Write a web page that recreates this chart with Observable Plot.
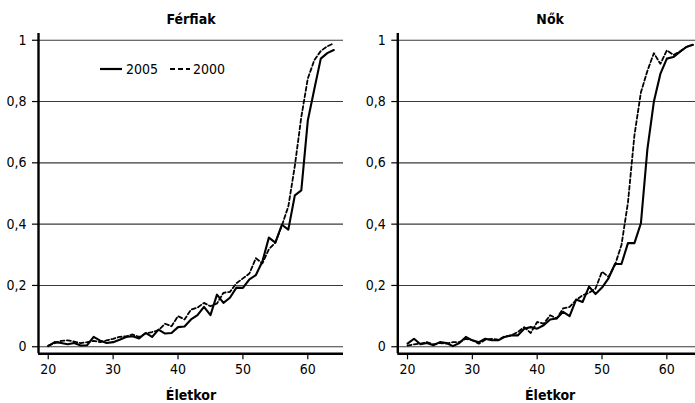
<!DOCTYPE html>
<html>
<head>
<meta charset="utf-8">
<script src="https://cdn.jsdelivr.net/npm/d3@7"></script>
<script src="https://cdn.jsdelivr.net/npm/@observablehq/plot@0.6"></script>
<style>
  html, body { margin: 0; padding: 0; background: #fff; }
  body { width: 695px; height: 403px; overflow: hidden; position: relative;
         font-family: "Liberation Sans Narrow", "DejaVu Sans Condensed", sans-serif; }
  .panel { position: absolute; top: 0; }
  .panel svg { max-width: none !important; }
  #legend { position: absolute; left: 100px; top: 60px; color: #000; }
</style>
</head>
<body>
<div id="left" class="panel" style="left:0px; width:347px"></div>
<div id="right" class="panel" style="left:347px; width:355px"></div>
<div id="legend"></div>
<script>
// Ages (x categories)
const ages = [20,21,22,23,24,25,26,27,28,29,30,31,32,33,34,35,36,37,38,39,40,41,42,43,44,45,46,47,48,49,50,51,52,53,54,55,56,57,58,59,60,61,62,63,64];

// Férfiak (men)
const men2005 = [0.002,0.015,0.012,0.008,0.012,0.004,0.005,0.032,0.020,0.012,
                 0.015,0.023,0.032,0.034,0.027,0.045,0.032,0.056,0.043,0.045,
                 0.064,0.066,0.089,0.103,0.130,0.103,0.170,0.143,0.160,0.193,
                 0.192,0.220,0.234,0.278,0.356,0.340,0.398,0.382,0.494,0.510,
                 0.738,0.840,0.940,0.958,0.968];
const men2000 = [0.004,0.012,0.019,0.021,0.017,0.012,0.015,0.019,0.015,0.021,
                 0.026,0.032,0.034,0.040,0.032,0.043,0.048,0.054,0.075,0.067,
                 0.100,0.089,0.121,0.128,0.143,0.132,0.141,0.176,0.179,0.207,
                 0.223,0.239,0.289,0.272,0.318,0.340,0.395,0.458,0.590,0.750,
                 0.875,0.935,0.965,0.980,0.990];

// Nők (women)
const women2005 = [0.010,0.026,0.008,0.012,0.005,0.015,0.012,0.002,0.012,0.032,
                   0.021,0.015,0.026,0.021,0.021,0.032,0.037,0.037,0.059,0.064,
                   0.059,0.070,0.089,0.092,0.114,0.100,0.154,0.146,0.196,0.172,
                   0.193,0.223,0.270,0.270,0.338,0.338,0.403,0.645,0.800,0.890,
                   0.940,0.945,0.962,0.978,0.985];
const women2000 = [0.004,0.008,0.010,0.015,0.008,0.012,0.010,0.015,0.015,0.026,
                   0.021,0.010,0.023,0.026,0.023,0.034,0.037,0.048,0.064,0.045,
                   0.081,0.075,0.103,0.092,0.125,0.130,0.152,0.168,0.176,0.190,
                   0.245,0.228,0.267,0.332,0.470,0.690,0.830,0.900,0.958,0.923,
                   0.967,0.952,0.963,0.978,0.985];

const seriesNames = ["2005", "2000"];
const panelTitles = ["Férfiak", "Nők"];
const xLabel = "Életkor";
const xTicks = [20, 30, 40, 50, 60];
const yTicks = [0, 0.2, 0.4, 0.6, 0.8, 1];

const xDomain = [18.5, 65.5];
const yDomain = [-0.023, 1.022];
const fontFamily = '"Liberation Sans Narrow", "DejaVu Sans Condensed", sans-serif';
const fmt = d => String(d).replace(".", ",");

function makePanel(title, s2005, s2000, opts) {
  const d05 = ages.map((a, i) => ({age: a, v: s2005[i]}));
  const d00 = ages.map((a, i) => ({age: a, v: s2000[i]}));
  return Plot.plot({
    width: opts.width,
    height: 403,
    marginTop: 33,
    marginBottom: 49.7,
    marginLeft: opts.marginLeft,
    marginRight: opts.marginRight,
    style: {fontFamily, fontSize: "14px", color: "#000", background: "transparent", overflow: "visible", maxWidth: "none"},
    x: {domain: xDomain, ticks: xTicks, label: null},
    y: {domain: yDomain, ticks: yTicks, label: null},
    marks: [
      Plot.ruleY(yTicks, {stroke: "#3a3a3a", strokeWidth: 1.1}),
      Plot.axisX({ticks: xTicks, tickSize: 6, tickPadding: 4, label: null, fontSize: 14, strokeWidth: 1.2}),
      Plot.axisY({ticks: yTicks, tickSize: 6, tickPadding: 6, label: null, tickFormat: fmt, fontSize: 14, strokeWidth: 1.2}),
      Plot.line(d00, {x: "age", y: "v", stroke: "#000", strokeWidth: 1.8, strokeDasharray: "4,2.5"}),
      Plot.line(d05, {x: "age", y: "v", stroke: "#000", strokeWidth: 2.1}),
      Plot.ruleX([xDomain[0]], {stroke: "#000", strokeWidth: 2.4}),
      Plot.ruleY([yDomain[0]], {stroke: "#000", strokeWidth: 2.6}),
      Plot.text([title], {frameAnchor: "top", lineAnchor: "bottom", dy: -10, fontWeight: "bold", fontSize: 14, fill: "#000"}),
      Plot.text([xLabel], {frameAnchor: "bottom", lineAnchor: "bottom", dy: 46, fontWeight: "bold", fontSize: 14, fill: "#000"})
    ]
  });
}

document.getElementById("left").appendChild(
  makePanel(panelTitles[0], men2005, men2000, {width: 347, marginLeft: 38, marginRight: 4}));
document.getElementById("right").appendChild(
  makePanel(panelTitles[1], women2005, women2000, {width: 355, marginLeft: 50.3, marginRight: 0}));

// Legend
const leg = document.getElementById("legend");
leg.innerHTML =
  `<svg width="130" height="20" style="overflow:visible">
     <line x1="0" x2="22" y1="9" y2="9" stroke="#000" stroke-width="2.2"></line>
     <text x="26" y="14" font-size="14" font-family='${fontFamily}'>${seriesNames[0]}</text>
     <line x1="70" x2="90" y1="9" y2="9" stroke="#000" stroke-width="2" stroke-dasharray="5,3"></line>
     <text x="93" y="14" font-size="14" font-family='${fontFamily}'>${seriesNames[1]}</text>
   </svg>`;
</script>
</body>
</html>
